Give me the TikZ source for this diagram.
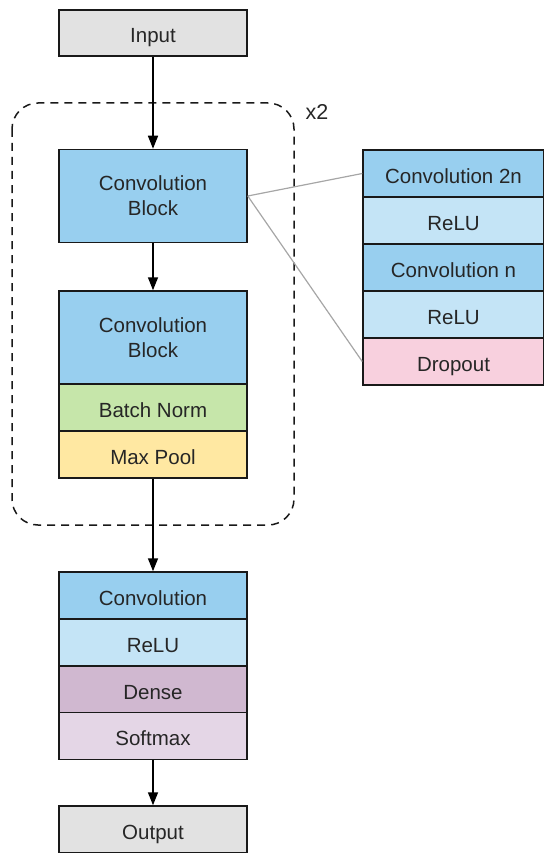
\documentclass[tikz,border=0pt]{standalone}
\usepackage{fontspec}
\setmainfont{Liberation Sans}
\usetikzlibrary{arrows.meta}
\definecolor{cgray}{RGB}{226,226,226}
\definecolor{cconv}{RGB}{152,207,239}
\definecolor{crelu}{RGB}{196,228,246}
\definecolor{cbn}{RGB}{198,230,170}
\definecolor{cmp}{RGB}{255,232,162}
\definecolor{cdrop}{RGB}{248,208,222}
\definecolor{cdense}{RGB}{208,184,208}
\definecolor{csoft}{RGB}{228,214,230}
\tikzset{
  blk/.style={draw=black!90, line width=1.5pt, inner sep=0pt, align=center,
    font=\fontsize{20.5}{25}\selectfont, text=black!85},
  one/.style={text height=19pt, text depth=0pt},
  lcol/.style={blk, minimum width=188pt},
  rcol/.style={blk, one, minimum width=181pt, minimum height=47pt},
  arr/.style={line width=1.5pt, -{Triangle[length=13pt,width=10pt]}},
  zoomline/.style={draw=black!35, line width=1.2pt},
  loopbox/.style={draw=black!90, line width=1.5pt, dash pattern=on 8pt off 6pt, rounded corners=26pt}
}
\begin{document}
\begin{tikzpicture}[x=1pt,y=-1pt]
\useasboundingbox (0,0) rectangle (543,853);
% dashed repeat region
\draw[loopbox] (12,103) rectangle (294,525);
\node[anchor=west, font=\fontsize{21.5}{24}\selectfont, text=black!85] (x2) at (302,112) {x2};
% left column
\node[lcol, one, fill=cgray, minimum height=46pt] (input) at (153,33) {Input};
\node[lcol, fill=cconv, minimum height=93pt] (cb1) at (153,196) {Convolution\\Block};
\node[lcol, fill=cconv, minimum height=93pt] (cb2) at (153,337.5) {Convolution\\Block};
\node[lcol, one, fill=cbn, minimum height=47pt] (bn) at (153,407.5) {Batch Norm};
\node[lcol, one, fill=cmp, minimum height=47pt] (mp) at (153,454.5) {Max Pool};
\node[lcol, one, fill=cconv, minimum height=47pt] (conv) at (153,595.5) {Convolution};
\node[lcol, one, fill=crelu, minimum height=47pt] (relu) at (153,642.5) {ReLU};
\node[lcol, one, fill=cdense, minimum height=47pt] (dense) at (153,689.5) {Dense};
\node[lcol, one, fill=csoft, minimum height=47pt] (soft) at (153,736) {Softmax};
\node[lcol, one, fill=cgray, minimum height=47pt] (output) at (153,829.5) {Output};
% right column
\node[rcol, fill=cconv] (r1) at (453.5,173.5) {Convolution 2n};
\node[rcol, fill=crelu] (r2) at (453.5,220.5) {ReLU};
\node[rcol, fill=cconv] (r3) at (453.5,267.5) {Convolution n};
\node[rcol, fill=crelu] (r4) at (453.5,314.5) {ReLU};
\node[rcol, fill=cdrop] (r5) at (453.5,361.5) {Dropout};
% connectors
\draw[arr] (input) -- (cb1);
\draw[arr] (cb1) -- (cb2);
\draw[arr] (mp) -- (conv);
\draw[arr] (soft) -- (output);
\draw[zoomline] (cb1.east) -- (r1.west);
\draw[zoomline] (cb1.east) -- (r5.west);
\end{tikzpicture}
\end{document}
